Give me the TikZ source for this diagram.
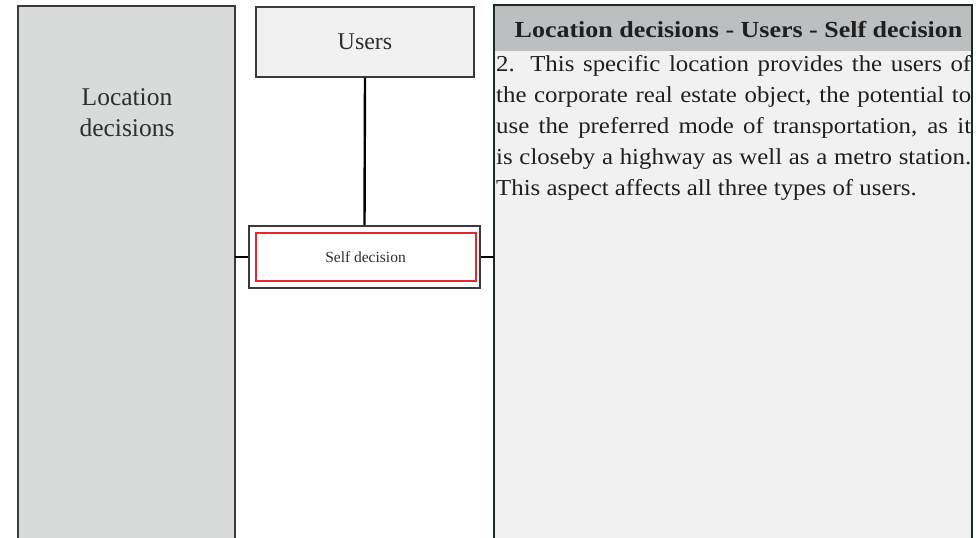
\documentclass[tikz,border=0pt]{standalone}
\usepackage{fontspec}
\setmainfont{Liberation Serif}
\newfontfamily\bodyfont[FakeStretch=1.09]{Liberation Serif}
\newfontfamily\headfont[FakeStretch=1.13]{Liberation Serif}
\definecolor{panelgray}{HTML}{D9DBDA}
\definecolor{lightfill}{HTML}{F0F1F0}
\definecolor{headgray}{HTML}{BDBEBF}
\definecolor{darkedge}{HTML}{3A3A3A}
\definecolor{greenedge}{HTML}{1C2A22}
\definecolor{selred}{HTML}{E8262B}
\definecolor{inktext}{HTML}{2E2E2E}
\tikzset{
  colbox/.style={draw=darkedge, line width=1.6pt, fill=panelgray},
  catbox/.style={draw=darkedge, line width=1.8pt, fill=lightfill, inner sep=0pt},
  itembox/.style={draw=darkedge, line width=1.8pt, fill=white, inner sep=0pt},
  selbox/.style={draw=selred, line width=2pt, fill=white, inner sep=0pt},
  link/.style={draw=black, line width=2.4pt},
  infobox/.style={draw=greenedge, line width=1.6pt, fill=lightfill},
}
\begin{document}
\begin{tikzpicture}[x=1pt, y=-1pt]
\useasboundingbox (0,0) rectangle (980,538);
\clip (0,0) rectangle (980,538);
% left column
\path[colbox] (18,6) rectangle (235,560);
\node[font=\fontsize{25.5}{31}\selectfont, align=center, text=inktext] (loc) at (127,112.5) {Location\\decisions};
% right information panel
\path[infobox] (494,5) rectangle (972,560);
\path[fill=headgray] (494.8,5.8) rectangle (971.2,50.5);
\draw[greenedge, line width=1.6pt] (494,5) rectangle (972,560);
\node[anchor=base, inner sep=0pt, font=\headfont\fontsize{23}{26}\selectfont\bfseries, text=black!88] (head) at (738.5,37) {Location decisions - Users - Self decision};
\node[anchor=north west, inner sep=0pt, align=left,
      font=\bodyfont\fontsize{22.8}{31}\selectfont, text=black!88] (body) at (496,55.4)
  {\makebox[475pt][s]{2. This specific location provides the users of}\\
   \makebox[475pt][s]{the corporate real estate object, the potential to}\\
   \makebox[475pt][s]{use the preferred mode of transportation, as it}\\
   \makebox[475pt][s]{is closeby a highway as well as a metro station.}\\
   This aspect affects all three types of users.};
% category and item
\node[catbox, minimum width=218pt, minimum height=70pt, font=\fontsize{24}{28}\selectfont, text=inktext] (users) at (365,42) {Users};
\node[itembox, minimum width=231pt, minimum height=62pt] (item) at (364.5,257) {};
\node[selbox, minimum width=220pt, minimum height=48.5pt, font=\fontsize{15.5}{18}\selectfont, text=inktext] (self) at (365.5,257) {Self decision};
\coordinate (lefte) at (235,256.7);
\coordinate (righte) at (494,256.7);
\draw[link] (users.south) -- (item.north);
\draw[link] (lefte) -- (item.west |- lefte);
\draw[link] (item.east |- righte) -- (righte);
\end{tikzpicture}
\end{document}
